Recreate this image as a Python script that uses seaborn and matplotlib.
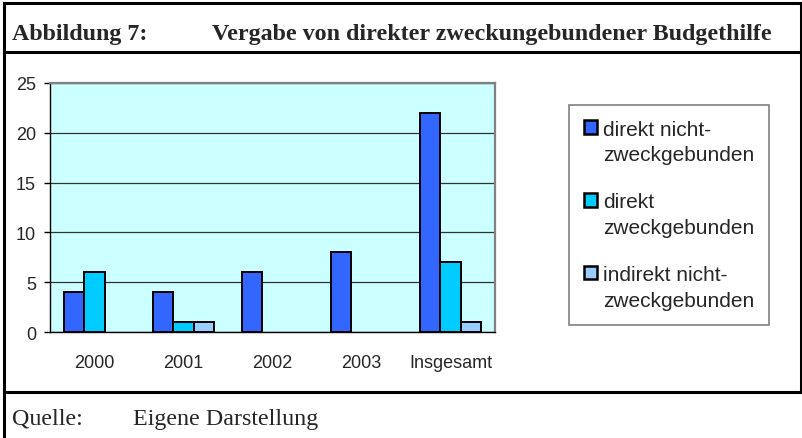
import numpy as np
import pandas as pd
import matplotlib.pyplot as plt
import matplotlib.patches as mpatches
from matplotlib.lines import Line2D
from matplotlib.legend_handler import HandlerPatch
import seaborn as sns

# Data
categories = ["2000", "2001", "2002", "2003", "Insgesamt"]
direkt_nicht = [4, 4, 6, 8, 22]
direkt_zweck = [6, 1, np.nan, np.nan, 7]
indirekt_nicht = [np.nan, 1, np.nan, np.nan, 1]

series = ["direkt nicht-zweckgebunden", "direkt zweckgebunden", "indirekt nicht-zweckgebunden"]
legend_labels = ["direkt nicht-\nzweckgebunden", "direkt\nzweckgebunden", "indirekt nicht-\nzweckgebunden"]
colors = ["#3366FF", "#00CCFF", "#99CCFF"]

df = pd.DataFrame({
    "Jahr": categories * 3,
    "Art": [series[0]] * 5 + [series[1]] * 5 + [series[2]] * 5,
    "Anzahl": direkt_nicht + direkt_zweck + indirekt_nicht,
})

sns.set_style("white")
plt.rcParams["font.family"] = ["Liberation Sans", "DejaVu Sans"]

W, H = 803, 439
fig = plt.figure(figsize=(W / 100, H / 100), dpi=100)


def fx(px):
    return px / W


def fy(py):
    return 1 - py / H


ax = fig.add_axes([fx(50), fy(333), fx(495) - fx(50), fy(84) - fy(333)])
ax.set_facecolor("#CCFFFF")

sns.barplot(
    data=df, x="Jahr", y="Anzahl", hue="Art",
    order=categories, hue_order=series, palette=colors,
    width=0.68, saturation=1, edgecolor="black", linewidth=1.4,
    legend=False, ax=ax,
)

ax.set_xlim(-0.5, 4.5)
ax.set_ylim(0, 25)
ax.set_yticks([0, 5, 10, 15, 20, 25])
ax.set_xlabel("")
ax.set_ylabel("")
ax.set_axisbelow(True)
ax.yaxis.grid(True, color="#333333", linewidth=0.9)

ax.set_xticks(range(len(categories)))
ax.set_xticklabels(categories)
ax.set_xticks(np.arange(-0.5, 5, 1), minor=True)
ax.tick_params(axis="x", which="major", length=0, pad=16, labelsize=13)
ax.tick_params(axis="x", which="minor", length=5, width=1, color="black", direction="out")
ax.tick_params(axis="y", length=4, width=1, color="black", direction="out", pad=6, labelsize=13, left=True)

for side in ["top", "right"]:
    ax.spines[side].set_color("#808080")
    ax.spines[side].set_linewidth(1.6)
for side in ["left", "bottom"]:
    ax.spines[side].set_color("black")
    ax.spines[side].set_linewidth(1.0)


# legend squares sit next to the first line of each label
def top_square(legend, orig_handle, xdescent, ydescent, width, height, fontsize):
    return mpatches.Rectangle((-xdescent, -ydescent + fontsize * 0.74), width, height)


handles = [mpatches.Patch(facecolor=c, edgecolor="black", linewidth=1.8) for c in colors]
leg = fig.legend(
    handles, legend_labels,
    loc="upper left", bbox_to_anchor=(fx(569), fy(106)), borderaxespad=0,
    fontsize=15, frameon=True, fancybox=False, framealpha=1,
    edgecolor="#808080", borderpad=0.7, labelspacing=1.35,
    handlelength=0.65, handleheight=0.65, handletextpad=0.3,
    handler_map={mpatches.Patch: HandlerPatch(patch_func=top_square)},
)
leg.get_frame().set_linewidth(1.2)
for t in leg.get_texts():
    t.set_linespacing(1.45)

# frame around the figure
lw = 2.2
for (x0, y0, x1, y1) in [(4, 4, 801, 4), (4, 4, 4, 439), (801, 4, 801, 393),
                         (4, 53, 801, 53), (4, 393, 801, 393)]:
    fig.add_artist(Line2D([fx(x0), fx(x1)], [fy(y0), fy(y1)], transform=fig.transFigure,
                          color="black", linewidth=lw, solid_capstyle="projecting"))

serif = ["Liberation Serif", "DejaVu Serif"]
fig.text(fx(12), fy(40), "Abbildung 7:", family=serif, fontweight="bold", fontsize=17.3, va="baseline")
fig.text(fx(212), fy(40), "Vergabe von direkter zweckungebundener Budgethilfe",
         family=serif, fontweight="bold", fontsize=17.3, va="baseline")
fig.text(fx(12), fy(425), "Quelle:", family=serif, fontsize=17.3, va="baseline")
fig.text(fx(133), fy(425), "Eigene Darstellung", family=serif, fontsize=17.3, va="baseline")

fig.savefig("out.png", dpi=100)
